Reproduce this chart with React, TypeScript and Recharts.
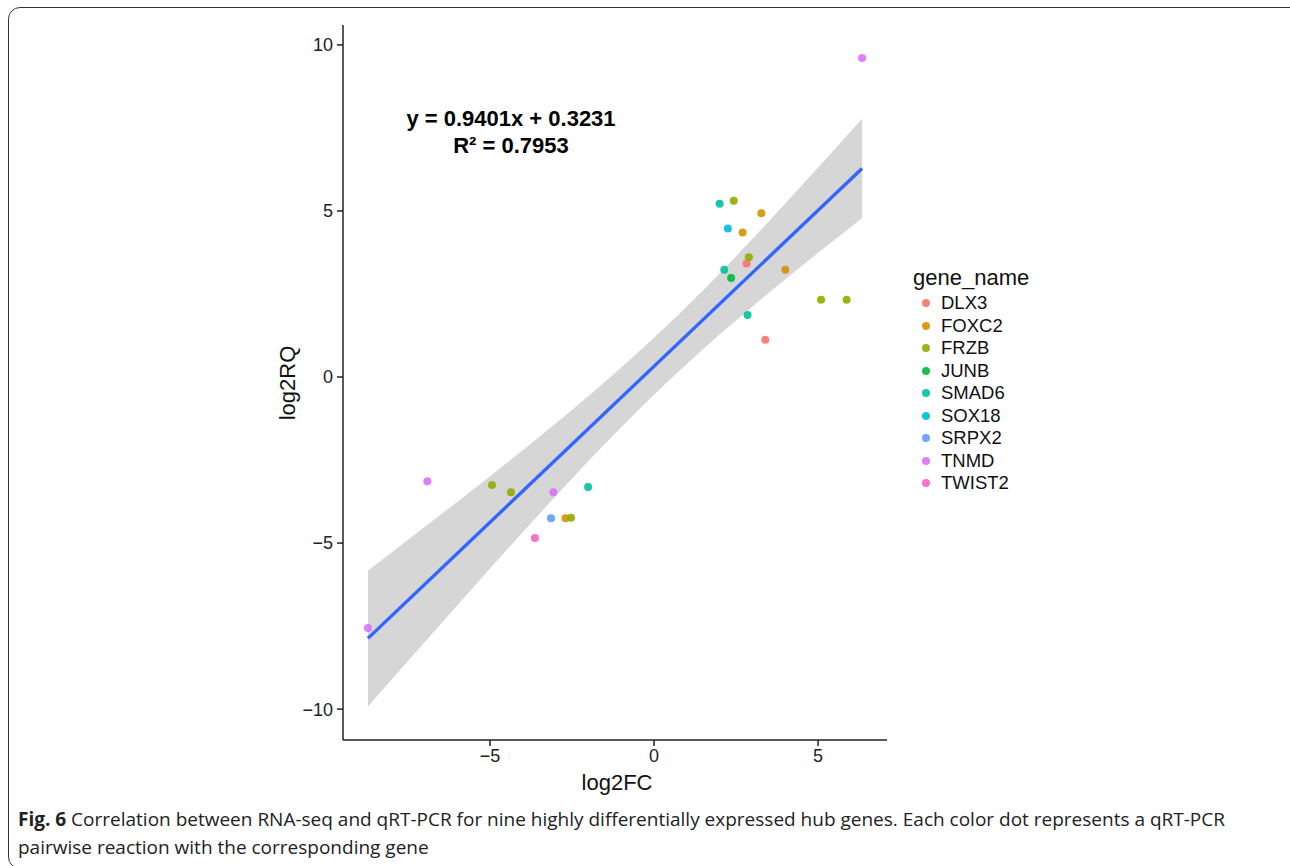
import { ComposedChart, Scatter, Line, Area, XAxis, YAxis } from 'recharts'

// gene names and ggplot hue colours
const genes = ['DLX3', 'FOXC2', 'FRZB', 'JUNB', 'SMAD6', 'SOX18', 'SRPX2', 'TNMD', 'TWIST2']
const geneColors = ['#F8766D', '#D39200', '#93AA00', '#00BA38', '#00C19F', '#00B9E3', '#619CFF', '#DB72FB', '#FF61C3']

// [log2FC, log2RQ] per gene
const DLX3 = [[2.82, 3.42], [3.39, 1.12]]
const FOXC2 = [[3.27, 4.93], [2.7, 4.35], [4.0, 3.23], [-2.7, -4.25]]
const FRZB = [[2.43, 5.31], [2.89, 3.61], [5.09, 2.33], [5.87, 2.33], [-4.94, -3.25], [-4.36, -3.47], [-2.53, -4.24]]
const JUNB = [[2.35, 2.98]]
const SMAD6 = [[2.0, 5.22], [2.14, 3.23], [2.85, 1.87], [-2.01, -3.31]]
const SOX18 = [[2.25, 4.47]]
const SRPX2 = [[-3.14, -4.25]]
const TNMD = [[-6.91, -3.14], [-3.07, -3.47], [-8.72, -7.56], [6.34, 9.61]]
const TWIST2 = [[-3.63, -4.85]]
const genePoints = [DLX3, FOXC2, FRZB, JUNB, SMAD6, SOX18, SRPX2, TNMD, TWIST2]

// confidence band (read from the grey ribbon) and fitted line ends
const bandX = [-8.72, -7.5, -6, -4.5, -3, -1.5, 0.3, 2, 3.5, 5, 6.34]
const bandLow = [-9.92, -8.55, -6.88, -5.22, -3.59, -2.02, -0.25, 1.28, 2.54, 3.74, 4.78]
const bandHigh = [-5.83, -4.9, -3.76, -2.6, -1.4, -0.15, 1.46, 3.12, 4.69, 6.31, 7.78]
const fitY = [-7.87, null, null, null, null, null, null, null, null, null, 6.28]

const xTicks = [-5, 0, 5]
const yTicks = [-10, -5, 0, 5, 10]

const fitData = bandX.map((x, i) => ({ x, band: [bandLow[i], bandHigh[i]], fit: fitY[i] }))

const fmt = (v: number) => String(v).replace('-', '\u2212')
const plotFont = '"Liberation Sans", Arial, Helvetica, sans-serif'

export default function App() {
  return (
    <div style={{ position: 'absolute', left: 0, top: 0, width: 1290, height: 866, overflow: 'hidden', background: '#fff' }}>
      {/* frame */}
      <div style={{ position: 'absolute', left: 8, top: 7, width: 1300, height: 860, border: '1.5px solid #333', borderRadius: 12 }} />

      <div style={{ position: 'absolute', left: 0, top: 0 }}>
        <ComposedChart width={1290} height={866} data={fitData} margin={{ top: 25, right: 403, bottom: 66, left: 283 }}>
          <XAxis
            type="number"
            dataKey="x"
            domain={[-9.48, 7.1]}
            ticks={xTicks}
            tickFormatter={fmt}
            allowDataOverflow
            stroke="#222"
            strokeWidth={1.5}
            tickSize={6}
            tickMargin={3}
            height={60}
            tick={{ fill: '#222', fontSize: 18, fontFamily: plotFont }}
          />
          <YAxis
            type="number"
            domain={[-10.93, 10.6]}
            ticks={yTicks}
            tickFormatter={fmt}
            allowDataOverflow
            stroke="#222"
            strokeWidth={1.5}
            tickSize={6}
            tickMargin={4}
            width={60}
            tick={{ fill: '#222', fontSize: 18, fontFamily: plotFont }}
          />
          <Area dataKey="band" type="monotone" fill="#d6d6d6" fillOpacity={1} stroke="none" isAnimationActive={false} />
          <Line dataKey="fit" connectNulls stroke="#3366FF" strokeWidth={3.4} dot={false} isAnimationActive={false} />
          {genes.map((g, gi) => (
            <Scatter
              key={g}
              name={g}
              data={genePoints[gi].map(p => ({ x: p[0], y: p[1] }))}
              dataKey="y"
              fill={geneColors[gi]}
              isAnimationActive={false}
              shape={(props: any) => <circle cx={props.cx} cy={props.cy} r={4} fill={geneColors[gi]} fillOpacity={0.9} />}
            />
          ))}
        </ComposedChart>
      </div>

      {/* axis titles */}
      <div style={{ position: 'absolute', left: 517, width: 200, top: 770, textAlign: 'center', fontFamily: plotFont, fontSize: 22, color: '#111' }}>log2FC</div>
      <div style={{ position: 'absolute', left: 188, width: 200, top: 370, textAlign: 'center', fontFamily: plotFont, fontSize: 22, color: '#111', transform: 'rotate(-90deg)' }}>log2RQ</div>

      {/* regression annotation */}
      <div style={{ position: 'absolute', left: 361, width: 300, top: 105, textAlign: 'center', fontFamily: plotFont, fontSize: 22, fontWeight: 700, color: '#000', lineHeight: '27px' }}>
        <div>y = 0.9401x + 0.3231</div>
        <div>R² = 0.7953</div>
      </div>

      {/* legend */}
      <div style={{ position: 'absolute', left: 913, top: 264, fontFamily: plotFont, color: '#111' }}>
        <div style={{ fontSize: 22, lineHeight: '28px' }}>gene_name</div>
        {genes.map((g, gi) => (
          <div key={g} style={{ display: 'flex', alignItems: 'center', height: 22.5, fontSize: 18.5 }}>
            <span style={{ display: 'inline-block', width: 8, height: 8, borderRadius: 4, marginLeft: 9, marginRight: 11, background: geneColors[gi], opacity: 0.9 }} />
            <span>{g}</span>
          </div>
        ))}
      </div>

      {/* caption */}
      <div style={{ position: 'absolute', left: 18, top: 805, width: 1270, fontFamily: '"Open Sans", sans-serif', fontStretch: '90%', fontSize: 19, lineHeight: '28px', color: '#222', whiteSpace: 'nowrap' }}>
        <b>Fig. 6</b> Correlation between RNA-seq and qRT-PCR for nine highly differentially expressed hub genes. Each color dot represents a qRT-PCR
        <br />
        pairwise reaction with the corresponding gene
      </div>
    </div>
  )
}
